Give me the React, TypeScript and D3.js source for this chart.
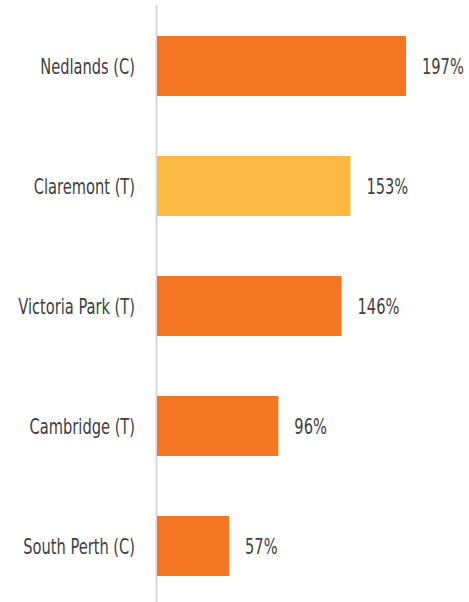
import React, { useEffect, useRef } from "react";
import * as d3 from "d3";

const categories = ["Nedlands (C)", "Claremont (T)", "Victoria Park (T)", "Cambridge (T)", "South Perth (C)"];
const values = [197, 153, 146, 96, 57];
const highlighted = ["Claremont (T)"];

const W = 469;
const H = 602;
const ORANGE = "#F47622";
const YELLOW = "#FBB843";
const TEXT = "#404040";
const FONT = "'DejaVu Sans Condensed', 'Liberation Sans Narrow', sans-serif";
const FS = 22;
const SX = 0.74; // squeeze to mimic a condensed face

export default function App() {
  const ref = useRef<SVGSVGElement | null>(null);

  useEffect(() => {
    document.body.style.margin = "0";
    const svg = d3.select(ref.current);
    svg.selectAll("*").remove();

    const x = d3.scaleLinear().domain([0, 197]).range([157, 406]);
    const y = d3.scaleBand().domain(categories).range([6, 606]).paddingInner(0.5).paddingOuter(0.25);

    const data = categories.map((c, i) => ({ c, v: values[i] }));

    svg
      .append("line")
      .attr("x1", 156.5)
      .attr("x2", 156.5)
      .attr("y1", 5)
      .attr("y2", H)
      .attr("stroke", "#d9d9d9")
      .attr("stroke-width", 2);

    svg
      .selectAll("rect.bar")
      .data(data)
      .join("rect")
      .attr("class", "bar")
      .attr("x", x(0))
      .attr("y", (d) => y(d.c)!)
      .attr("width", (d) => x(d.v) - x(0))
      .attr("height", y.bandwidth())
      .attr("fill", (d) => (highlighted.includes(d.c) ? YELLOW : ORANGE));

    svg
      .selectAll("text.cat")
      .data(data)
      .join("text")
      .attr("class", "cat")
      .attr("transform", (d) => `translate(135,${y(d.c)! + y.bandwidth() / 2}) scale(${SX},1)`)
      .attr("dy", "0.36em")
      .attr("text-anchor", "end")
      .attr("font-family", FONT)
      .attr("font-size", FS)
      .attr("fill", TEXT)
      .text((d) => d.c);

    svg
      .selectAll("text.val")
      .data(data)
      .join("text")
      .attr("class", "val")
      .attr("transform", (d) => `translate(${x(d.v) + 16},${y(d.c)! + y.bandwidth() / 2}) scale(${SX},1)`)
      .attr("dy", "0.36em")
      .attr("font-family", FONT)
      .attr("font-size", FS)
      .attr("fill", TEXT)
      .text((d) => `${d.v}%`);
  }, []);

  return <svg ref={ref} width={W} height={H} style={{ display: "block" }} />;
}
